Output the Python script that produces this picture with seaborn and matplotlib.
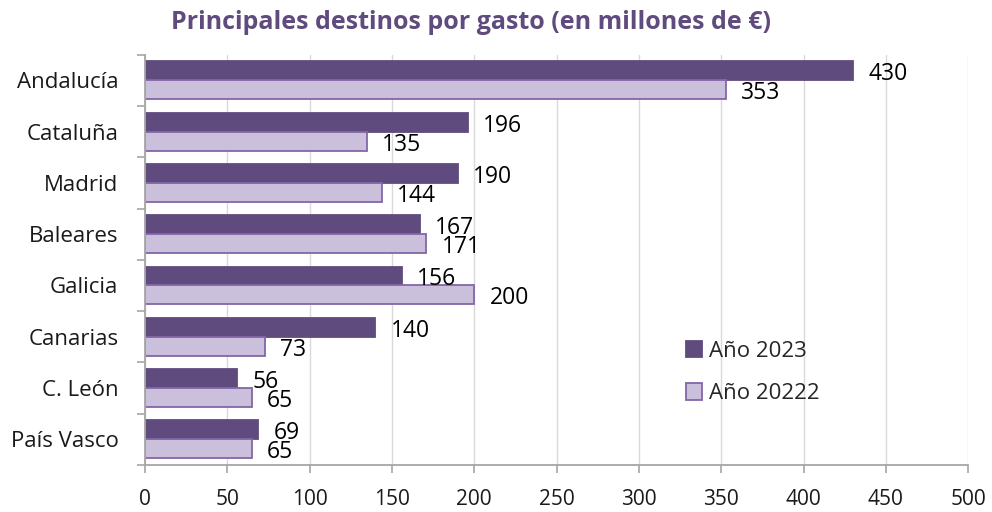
import matplotlib
matplotlib.use("Agg")
import matplotlib.pyplot as plt
import seaborn as sns
import pandas as pd
from matplotlib.patches import Patch
from matplotlib.ticker import MultipleLocator, FixedLocator

categories = ["Andalucía", "Cataluña", "Madrid", "Baleares", "Galicia", "Canarias", "C. León", "País Vasco"]
series_names = ["Año 2023", "Año 20222"]
values_2023 = [430, 196, 190, 167, 156, 140, 56, 69]
values_2022 = [353, 135, 144, 171, 200, 73, 65, 65]
title = "Principales destinos por gasto (en millones de €)"

dark = "#5F4B7D"
light = "#CBC0DB"
light_edge = "#8466A8"

df = pd.DataFrame({
    "destino": categories * 2,
    "serie": [series_names[0]] * len(categories) + [series_names[1]] * len(categories),
    "valor": values_2023 + values_2022,
})

sns.set_style("white")
plt.rcParams["font.family"] = ["Open Sans", "DejaVu Sans"]

fig = plt.figure(figsize=(9.92, 5.12), dpi=100)
ax = fig.add_axes([0.146, 0.092, 0.83, 0.801])

sns.barplot(data=df, y="destino", x="valor", hue="serie", hue_order=series_names,
            order=categories, orient="h", palette=[dark, light], width=0.74,
            ax=ax, legend=False, saturation=1)

for i, cont in enumerate(ax.containers):
    for p, v in zip(cont.patches, cont.datavalues):
        p.set_edgecolor(dark if i == 0 else light_edge)
        p.set_linewidth(1.3)
        ax.annotate(str(int(v)), xy=(p.get_width(), p.get_y() + p.get_height() / 2),
                    xytext=(11, -2.5), textcoords="offset points", ha="left", va="center",
                    fontsize=16.5, color="black")

ax.set_xlim(0, 500)
ax.set_ylim(len(categories) - 0.5, -0.5)
ax.xaxis.set_major_locator(MultipleLocator(50))
ax.grid(axis="x", color="#D9D9D9", linewidth=1)
ax.set_axisbelow(True)
ax.set_xlabel("")
ax.set_ylabel("")

for s in ["top", "right"]:
    ax.spines[s].set_visible(False)
for s in ["left", "bottom"]:
    ax.spines[s].set_color("#A6A6A6")
    ax.spines[s].set_linewidth(1.3)

ax.tick_params(axis="x", which="major", length=6, color="#A6A6A6", width=1.2,
               labelsize=15, pad=11, direction="out", bottom=True)
ax.tick_params(axis="y", which="major", length=0, labelsize=16, pad=19)
ax.yaxis.set_minor_locator(FixedLocator([i - 0.5 for i in range(len(categories) + 1)]))
ax.tick_params(axis="y", which="minor", length=6, color="#A6A6A6", width=1.2, left=True)
for lbl in ax.get_xticklabels() + ax.get_yticklabels():
    lbl.set_color("#1a1a1a")

fig.text(0.475, 0.957, title, ha="center", va="center", fontsize=18,
         fontweight="bold", color="#5F4B7D")

handles = [Patch(facecolor=dark, edgecolor=dark, linewidth=1.3),
           Patch(facecolor=light, edgecolor=light_edge, linewidth=1.3)]
fig.legend(handles, series_names, loc="upper left", bbox_to_anchor=(0.671, 0.374),
           frameon=False, fontsize=16, handlelength=0.75, handleheight=0.75,
           handletextpad=0.3, labelspacing=0.98)

fig.savefig("out.png", dpi=100)
